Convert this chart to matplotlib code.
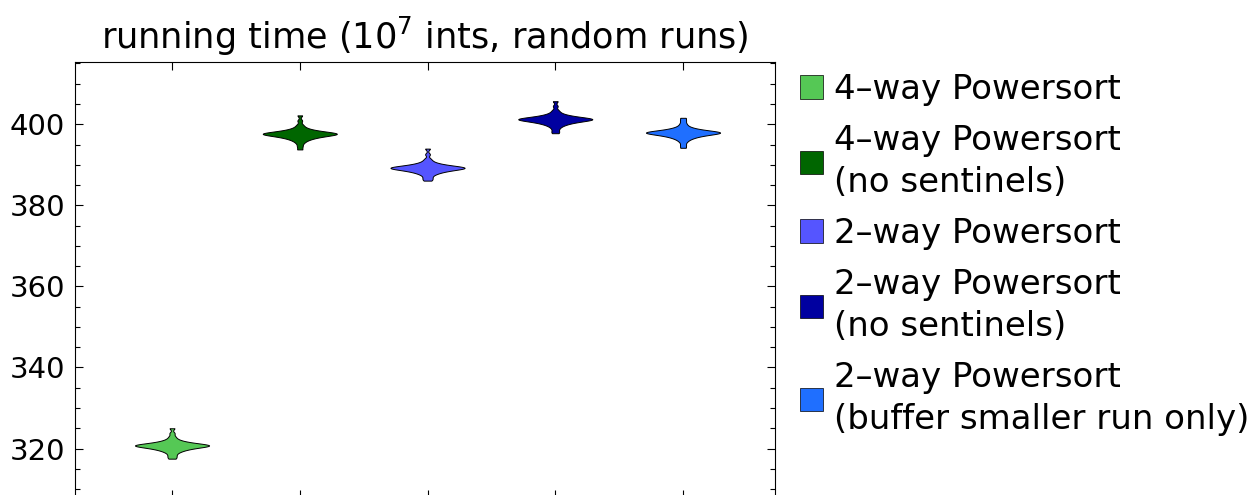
import matplotlib
matplotlib.use("Agg")
import matplotlib.pyplot as plt
from matplotlib.patches import Patch
from matplotlib.ticker import MultipleLocator

# running time per repetition, one list per algorithm
t_4way = [317.50, 317.95, 318.41, 318.87, 319.18, 319.40, 319.58, 319.74, 319.86, 319.98,
          320.08, 320.17, 320.25, 320.32, 320.39, 320.46, 320.52, 320.57, 320.63, 320.68,
          320.72, 320.76, 320.80, 320.84, 320.89, 320.94, 320.99, 321.05, 321.11, 321.18,
          321.26, 321.35, 321.45, 321.57, 321.71, 321.88, 322.12, 322.48, 323.00,
          323.8, 325.0]
t_4way_nosent = [393.80, 394.60, 395.31, 395.77, 396.08, 396.30, 396.48, 396.64, 396.76, 396.88,
                 396.98, 397.07, 397.15, 397.22, 397.29, 397.36, 397.42, 397.47, 397.53, 397.58,
                 397.62, 397.66, 397.70, 397.74, 397.79, 397.84, 397.89, 397.95, 398.01, 398.08,
                 398.16, 398.25, 398.35, 398.47, 398.61, 398.78, 399.02, 399.38, 399.90,
                 400.9, 402.2]
t_2way = [386.10, 386.50, 386.91, 387.37, 387.68, 387.90, 388.08, 388.24, 388.36, 388.48,
          388.58, 388.67, 388.75, 388.82, 388.89, 388.96, 389.02, 389.07, 389.13, 389.18,
          389.22, 389.26, 389.30, 389.34, 389.39, 389.44, 389.49, 389.55, 389.61, 389.68,
          389.76, 389.85, 389.95, 390.07, 390.21, 390.38, 390.62, 390.98, 391.50,
          392.6, 394.0]
t_2way_nosent = [397.80, 398.30, 398.91, 399.37, 399.68, 399.90, 400.08, 400.24, 400.36, 400.48,
                 400.58, 400.67, 400.75, 400.82, 400.89, 400.96, 401.02, 401.07, 401.13, 401.18,
                 401.22, 401.26, 401.30, 401.34, 401.39, 401.44, 401.49, 401.55, 401.61, 401.68,
                 401.76, 401.85, 401.95, 402.07, 402.21, 402.38, 402.62, 402.98, 403.50,
                 404.5, 405.7]
t_2way_buf = [394.20, 394.90, 395.61, 396.07, 396.38, 396.60, 396.78, 396.94, 397.06, 397.18,
              397.28, 397.37, 397.45, 397.52, 397.59, 397.66, 397.72, 397.77, 397.83, 397.88,
              397.92, 397.96, 398.00, 398.04, 398.09, 398.14, 398.19, 398.25, 398.31, 398.38,
              398.46, 398.55, 398.65, 398.77, 398.91, 399.08, 399.32, 399.68, 400.20,
              400.9, 401.6]

labels = ["4\u2013way Powersort",
          "4\u2013way Powersort\n(no sentinels)",
          "2\u2013way Powersort",
          "2\u2013way Powersort\n(no sentinels)",
          "2\u2013way Powersort\n(buffer smaller run only)"]
colors = ["#55c855", "#006600", "#5555ff", "#0000a0", "#1f6fff"]
data = [t_4way, t_4way_nosent, t_2way, t_2way_nosent, t_2way_buf]

plt.rcParams['font.size'] = 24.5
fig = plt.figure(figsize=(12.49, 4.95), dpi=100)
ax = fig.add_axes([0.060, -0.006, 0.5605, 0.881])

pos = list(range(1, len(data) + 1))
vp = ax.violinplot(data, positions=pos, widths=0.58, showextrema=False, bw_method=0.25)
for body, c in zip(vp['bodies'], colors):
    body.set_facecolor(c)
    body.set_edgecolor('black')
    body.set_linewidth(0.7)
    body.set_alpha(1)

ax.set_xlim(0.24, 5.72)
ax.set_ylim(307.8, 415.4)
ax.set_xticks(pos)
ax.set_xticklabels([])
ax.yaxis.set_major_locator(MultipleLocator(20))
ax.yaxis.set_minor_locator(MultipleLocator(5))
ax.tick_params(direction='in', top=True, right=True, length=6, width=0.8,
               labelsize=21, pad=7)
ax.tick_params(which='minor', direction='in', right=True, length=3.5, width=0.8)
ax.set_title("running time ($10^7$ ints, random runs)", fontsize=25.3, pad=9)

handles = [Patch(facecolor=c, edgecolor='black', linewidth=0.5) for c in colors]
leg = fig.legend(handles, labels, loc='upper left', bbox_to_anchor=(0.6296, 0.88),
                 frameon=False, fontsize=24.5, handlelength=0.67, handleheight=0.67,
                 handletextpad=0.32, labelspacing=0.53, borderaxespad=0)
for t in leg.get_texts():
    t.set_linespacing(1.34)

fig.savefig("out.png", dpi=100)
